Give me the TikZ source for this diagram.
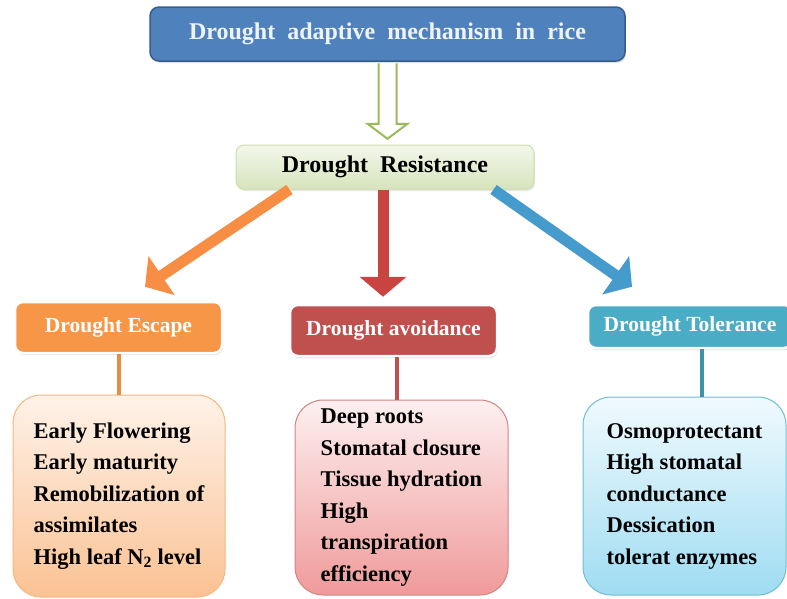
\documentclass[tikz,border=0pt]{standalone}
\usepackage{fontspec}
\setmainfont{Liberation Serif}
\usetikzlibrary{arrows.meta,shadows,calc}
\definecolor{myblue}{HTML}{4F81BD}
\definecolor{mydarkblue}{HTML}{385D8A}
\definecolor{mygreen}{HTML}{9BBB59}
\definecolor{myorange}{HTML}{F79646}
\definecolor{myred}{HTML}{C0504D}
\definecolor{myaqua}{HTML}{4BACC6}
\definecolor{mypink}{HTML}{F09A9A}
\definecolor{mysky}{HTML}{9FDCF2}
\newcommand{\widewords}{\spaceskip 0.5em\relax}
\tikzset{
  labelbox/.style={rectangle, rounded corners=8pt, draw=white, line width=2.5pt,
    minimum width=207pt, minimum height=51pt, inner sep=0pt, text=white,
    font=\bfseries\fontsize{21.5}{24}\selectfont,
    drop shadow={opacity=0.25, shadow xshift=1pt, shadow yshift=-2pt}},
  listbox/.style={rectangle, rounded corners=28pt, line width=1pt, inner sep=0pt,
    align=left, font=\bfseries\fontsize{22.5}{31.5}\selectfont},
  fatarrow/.style={line width=11pt, -{Triangle[length=20pt,width=46pt]}},
}
\begin{document}
\begin{tikzpicture}[x=1pt,y=-1pt]
\useasboundingbox (0,0) rectangle (787,598);

% top of the tree
\node[rectangle, rounded corners=9pt, draw=mydarkblue, line width=1.5pt, fill=myblue,
  minimum width=475pt, minimum height=54pt, text=white!90!myblue,
  font=\bfseries\fontsize{24}{28}\selectfont\widewords,
  drop shadow={opacity=0.25, shadow xshift=1pt, shadow yshift=-2pt}]
  (title) at (387.5,34) {Drought adaptive mechanism in rice};
\node[rectangle, rounded corners=8pt, draw=mygreen!50, line width=1pt,
  top color=mygreen!12, bottom color=mygreen!40,
  minimum width=298pt, minimum height=44pt,
  font=\bfseries\fontsize{24}{28}\selectfont\widewords,
  drop shadow={opacity=0.2, shadow xshift=1pt, shadow yshift=-2pt}]
  (res) at (385,167) {Drought Resistance};
\draw[mygreen, line width=2pt, fill=white, line join=miter]
  ($(title.south)+(-9,1.5)$) -- ($(title.south)+(-9,62)$) -- ($(title.south)+(-20,62)$)
  -- ($(title.south)+(0,77)$) -- ($(title.south)+(20,62)$) -- ($(title.south)+(9,62)$)
  -- ($(title.south)+(9,1.5)$);

% three ways
\node[labelbox, fill=myorange] (esc) at (118.5,327.5) {Drought Escape};
\node[labelbox, fill=myred] (avoid) at (393.5,330.5) {Drought avoidance};
\node[labelbox, fill=myaqua, minimum width=204pt, minimum height=43pt] (tol) at (690,326.5) {Drought Tolerance};

\draw[fatarrow, color=myorange!95!red] ([xshift=54pt]res.south west) -- ([xshift=26.5pt,yshift=14pt]esc.north);
\draw[fatarrow, color=myred!85!red] ([xshift=-2pt]res.south) -- ([xshift=-2pt,yshift=7pt]res.south |- avoid.north);
\draw[fatarrow, color=myaqua!90!blue] ([xshift=-41pt]res.south east) -- ([xshift=-58pt,yshift=17pt]tol.north);

% traits
\node[listbox, draw=myorange!70, top color=myorange!12, bottom color=myorange!58,
  minimum width=212pt, minimum height=202pt] (esclist) at (119,496)
  {Early Flowering\\Early maturity\\Remobilization of\\assimilates\\High leaf N\textsubscript{2} level};
\node[listbox, draw=myred!70, top color=mypink!15, bottom color=mypink,
  minimum width=213pt, minimum height=195pt] (avoidlist) at (401.5,497.5)
  {Deep roots\\Stomatal closure\\Tissue hydration\\High\\transpiration\\efficiency};
\node[listbox, draw=myaqua!80, top color=mysky!15, bottom color=mysky,
  minimum width=203pt, minimum height=198pt] (tollist) at (684.5,496)
  {Osmoprotectant\\High stomatal\\conductance\\Dessication\\tolerat enzymes};

\draw[myorange!70!brown, line width=4pt] (esc.south) -- (esc.south |- esclist.north);
\draw[myred, line width=4pt] ([xshift=3.5pt]avoid.south) -- ([xshift=3.5pt]avoid.south |- avoidlist.north);
\draw[myaqua!85!black, line width=4pt] ([xshift=12pt]tol.south) -- ([xshift=12pt]tol.south |- tollist.north);
\end{tikzpicture}
\end{document}
